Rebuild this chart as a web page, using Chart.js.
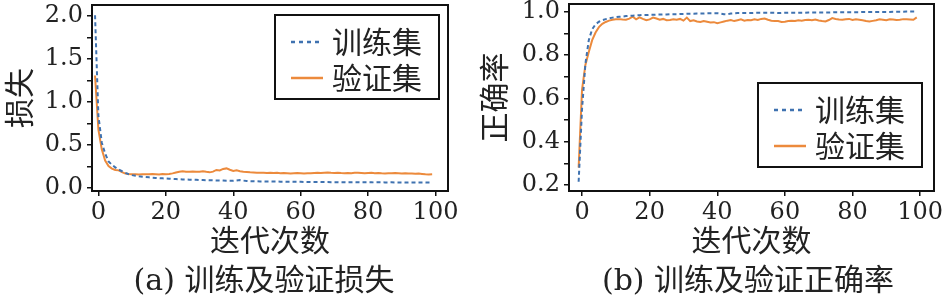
<!DOCTYPE html>
<html>
<head>
<meta charset="utf-8">
<script src="https://cdn.jsdelivr.net/npm/chart.js@4.4.1/dist/chart.umd.min.js"></script>
<style>
  html, body { margin: 0; padding: 0; background: #fff; }
  #wrap { position: relative; width: 946px; height: 296px; overflow: hidden; }
  #lossBox { position: absolute; left: 0; top: 0; width: 470px; height: 296px; }
  #accBox { position: absolute; left: 470px; top: 0; width: 476px; height: 296px; }
  .cap { position: absolute; top: 255px; height: 36px; line-height: 36px; font: 30px "DejaVu Serif", "Noto Sans CJK SC", serif; color: #222; white-space: nowrap; transform: translateX(-50%); }
</style>
</head>
<body>
<div id="wrap">
  <div id="lossBox"><canvas id="lossChart" width="470" height="296"></canvas></div>
  <div id="accBox"><canvas id="accChart" width="476" height="296"></canvas></div>
  <div class="cap" style="left:264px">(a) 训练及验证损失</div>
  <div class="cap" style="left:748px">(b) 训练及验证正确率</div>
</div>
<script>
// 数据
const epochs = [];
for (let e = -1; e <= 99; e++) epochs.push(e);

const trainLoss = [
    2.01,
    0.84, 0.53, 0.40, 0.31, 0.27, 0.24, 0.215, 0.195, 0.175, 0.16,
    0.15, 0.142, 0.136, 0.132, 0.128, 0.124, 0.12, 0.117, 0.114, 0.112, 0.11,
    0.108, 0.106, 0.104, 0.102, 0.1, 0.099, 0.097, 0.096, 0.095,
    0.093, 0.092, 0.091, 0.09, 0.089, 0.088, 0.087, 0.086, 0.085, 0.084,
    0.083, 0.088, 0.092, 0.086, 0.082, 0.08, 0.079, 0.078, 0.077, 0.077,
    0.076, 0.076, 0.075, 0.075, 0.074, 0.074, 0.073, 0.073, 0.072, 0.072,
    0.072, 0.071, 0.071, 0.07, 0.07, 0.07, 0.069, 0.069, 0.069, 0.068,
    0.068, 0.068, 0.067, 0.067, 0.066, 0.067, 0.068, 0.067, 0.066, 0.066,
    0.066, 0.066, 0.065, 0.066, 0.066, 0.065, 0.065, 0.066, 0.065, 0.065,
    0.064, 0.063, 0.065, 0.065, 0.064, 0.064, 0.065, 0.065, 0.064, 0.064
];
const valLoss = [
    1.31,
    0.68, 0.45, 0.32, 0.255, 0.225, 0.21, 0.205, 0.185, 0.168, 0.162,
    0.16, 0.161, 0.158, 0.16, 0.159, 0.16, 0.162, 0.16, 0.158, 0.163, 0.16,
    0.162, 0.17, 0.18, 0.19, 0.196, 0.19, 0.188, 0.192, 0.19,
    0.19, 0.195, 0.188, 0.182, 0.19, 0.21, 0.204, 0.222, 0.228, 0.212,
    0.198, 0.205, 0.196, 0.19, 0.186, 0.182, 0.18, 0.178, 0.176, 0.178,
    0.175, 0.178, 0.174, 0.176, 0.172, 0.175, 0.173, 0.17, 0.172, 0.174,
    0.172, 0.17, 0.173, 0.171, 0.174, 0.176, 0.174, 0.178, 0.18, 0.177,
    0.175, 0.177, 0.174, 0.172, 0.175, 0.173, 0.176, 0.178, 0.175, 0.172,
    0.174, 0.176, 0.173, 0.175, 0.172, 0.17, 0.173, 0.171, 0.174, 0.172,
    0.17, 0.172, 0.168, 0.17, 0.166, 0.168, 0.164, 0.16, 0.158, 0.16
];
const trainAcc = [
    0.215,
    0.55, 0.76, 0.87, 0.92, 0.943, 0.955, 0.962, 0.967, 0.971, 0.974,
    0.976, 0.978, 0.979, 0.981, 0.982, 0.983, 0.984, 0.985, 0.986, 0.986, 0.987,
    0.987, 0.988, 0.988, 0.989, 0.989, 0.99, 0.99, 0.99, 0.991,
    0.991, 0.992, 0.992, 0.992, 0.993, 0.993, 0.993, 0.994, 0.994, 0.994,
    0.994, 0.993, 0.99, 0.989, 0.993, 0.994, 0.995, 0.995, 0.995, 0.995,
    0.995, 0.996, 0.996, 0.996, 0.996, 0.996, 0.996, 0.996, 0.995, 0.996,
    0.996, 0.997, 0.997, 0.997, 0.997, 0.997, 0.997, 0.998, 0.998, 0.998,
    0.998, 0.998, 0.998, 0.998, 0.998, 0.999, 0.999, 0.999, 0.999, 0.999,
    0.999, 0.999, 0.999, 1.0, 1.0, 1.0, 1.0, 1.0, 1.0, 1.0,
    1.0, 1.0, 1.001, 1.001, 1.001, 1.001, 1.002, 1.002, 1.002, 1.002
];
const valAcc = [
    0.28,
    0.64, 0.755, 0.815, 0.87, 0.905, 0.93, 0.945, 0.954, 0.96, 0.964,
    0.966, 0.967, 0.965, 0.964, 0.969, 0.978, 0.966, 0.975, 0.968, 0.962, 0.966,
    0.974, 0.97, 0.964, 0.968, 0.962, 0.963, 0.966, 0.964, 0.968,
    0.96, 0.974, 0.958, 0.962, 0.956, 0.954, 0.958, 0.955, 0.952, 0.953,
    0.948, 0.952, 0.956, 0.96, 0.963, 0.958, 0.962, 0.966, 0.96, 0.963,
    0.962, 0.966, 0.963, 0.968, 0.97, 0.964, 0.96, 0.958, 0.958, 0.954,
    0.955, 0.958, 0.96, 0.958, 0.962, 0.96, 0.963, 0.964, 0.962, 0.965,
    0.961, 0.958, 0.956, 0.963, 0.972, 0.968, 0.965, 0.964, 0.966, 0.968,
    0.963, 0.966, 0.964, 0.962, 0.958, 0.956, 0.959, 0.962, 0.966, 0.964,
    0.962, 0.966, 0.965, 0.963, 0.964, 0.967, 0.966, 0.965, 0.964, 0.975
];

const xTicks = [0, 20, 40, 60, 80, 100];
const lossTicks = [0, 0.25, 0.5, 0.75, 1.0, 1.25, 1.5, 1.75, 2.0];
const lossLabels = [0, 0.5, 1.0, 1.5, 2.0];
const accTicks = [0.2, 0.3, 0.4, 0.5, 0.6, 0.7, 0.8, 0.9, 1.0];
const accLabels = [0.2, 0.4, 0.6, 0.8, 1.0];
const seriesNames = ['训练集', '验证集'];

const BLUE = '#3f72b0';
const ORANGE = '#ec8a3c';
const numFont = { family: 'DejaVu Serif', size: 24 };
const cjkFont = { family: 'Noto Sans CJK SC', size: 30 };

const pts = arr => epochs.map((e, i) => ({ x: e, y: arr[i] }));

// 边框 + 图例
const framePlugin = {
    id: 'frame',
    afterDraw(chart, args, opts) {
        const { ctx, chartArea: a } = chart;
        ctx.save();
        ctx.strokeStyle = '#111';
        ctx.lineWidth = 2;
        ctx.strokeRect(a.left, a.top, a.right - a.left, a.bottom - a.top);

        const bx = a.right - opts.right, by = a.top + opts.top, bw = 164, bh = 84;
        ctx.fillStyle = '#fff';
        ctx.fillRect(bx, by, bw, bh);
        ctx.strokeRect(bx, by, bw, bh);
        ctx.font = '30px "Noto Sans CJK SC"';
        ctx.textBaseline = 'middle';
        chart.data.datasets.forEach((ds, i) => {
            const y = by + 27 + i * 36;
            ctx.beginPath();
            ctx.strokeStyle = ds.borderColor;
            ctx.lineWidth = 2.5;
            ctx.setLineDash(ds.borderDash ? [4, 4] : []);
            ctx.moveTo(bx + 16, y);
            ctx.lineTo(bx + 48, y);
            ctx.stroke();
            ctx.setLineDash([]);
            ctx.fillStyle = '#222';
            ctx.fillText(ds.label, bx + 57, y);
        });
        ctx.restore();
    }
};

function makeChart(id, train, val, cfg) {
    return new Chart(document.getElementById(id), {
        type: 'line',
        data: {
            datasets: [
                { label: seriesNames[0], data: pts(train), borderColor: BLUE, borderWidth: 2, borderDash: [4, 3], pointRadius: 0, tension: 0 },
                { label: seriesNames[1], data: pts(val), borderColor: ORANGE, borderWidth: 2, pointRadius: 0, tension: 0 }
            ]
        },
        options: {
            responsive: false,
            animation: false,
            devicePixelRatio: 1,
            layout: { padding: { top: cfg.padTop, right: cfg.padRight, left: 0, bottom: 0 } },
            plugins: { legend: { display: false }, tooltip: { enabled: false }, frame: cfg.legend },
            scales: {
                x: {
                    type: 'linear', min: cfg.xMin, max: cfg.xMax,
                    afterBuildTicks: s => { s.ticks = xTicks.map(v => ({ value: v })); },
                    afterFit: s => { s.height = 105; s.paddingLeft = 0; s.paddingRight = 0; },
                    grid: { display: true, drawOnChartArea: false, tickLength: 5, color: '#111', lineWidth: 1.5 },
                    border: { display: false },
                    ticks: { font: numFont, color: '#222', padding: 2, maxRotation: 0, autoSkip: false },
                    title: { display: true, text: '迭代次数', font: cjkFont, color: '#222', padding: { top: 0, bottom: 38 } }
                },
                y: {
                    type: 'linear', min: cfg.yMin, max: cfg.yMax,
                    afterBuildTicks: s => { s.ticks = cfg.yTicks.map(v => ({ value: v })); },
                    afterFit: s => { s.width = cfg.yWidth; s.paddingTop = 0; s.paddingBottom = 0; },
                    grid: { display: true, drawOnChartArea: false, tickLength: 5, color: '#111', lineWidth: 1.5 },
                    border: { display: false },
                    ticks: {
                        font: numFont, color: '#222', padding: 4, autoSkip: false,
                        callback: v => cfg.yLabels.some(l => Math.abs(l - v) < 1e-6) ? v.toFixed(1) : ''
                    },
                    title: { display: true, text: cfg.yTitle, font: cjkFont, color: '#222', padding: { top: cfg.yTitlePad, bottom: 0 } }
                }
            }
        },
        plugins: [framePlugin]
    });
}

makeChart('lossChart', trainLoss, valLoss, {
    padTop: 5, padRight: 22, yWidth: 92, yTitle: '损失', yTitlePad: 1,
    xMin: -1.9, xMax: 103.7, yMin: -0.035, yMax: 2.13,
    yTicks: lossTicks, yLabels: lossLabels,
    legend: { right: 173, top: 10 }
});

makeChart('accChart', trainAcc, valAcc, {
    padTop: 4, padRight: 12, yWidth: 99, yTitle: '正确率', yTitlePad: 5.5,
    xMin: -3.85, xMax: 104.1, yMin: 0.172, yMax: 1.037,
    yTicks: accTicks, yLabels: accLabels,
    legend: { right: 176, top: 79 }
});
</script>
</body>
</html>
